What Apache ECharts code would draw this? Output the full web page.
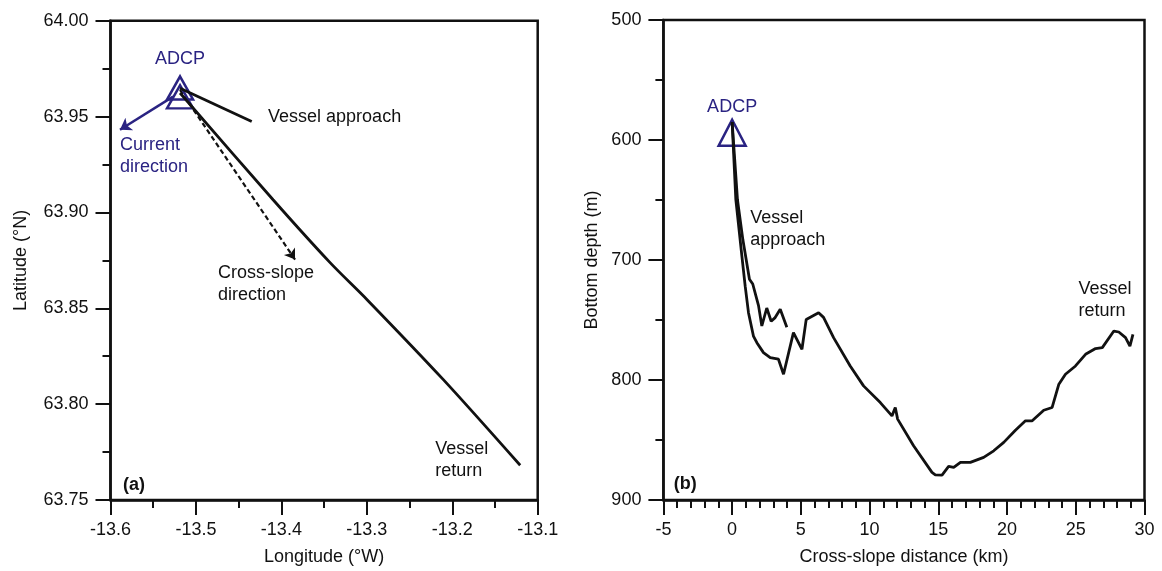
<!DOCTYPE html>
<html>
<head>
<meta charset="utf-8">
<script src="https://cdn.jsdelivr.net/npm/echarts@6/dist/echarts.min.js"></script>
<style>
  html, body { margin: 0; background: #fff; }
  #main { width: 1162px; height: 571px; }
</style>
</head>
<body>
<div id="main"></div>
<script>
// ---- panel (a): ship track ----
const approachLon = [-13.5186, -13.4347];
const approachLat = [63.9648, 63.9474];
const returnLon = [-13.5186, -13.4097, -13.3430, -13.2997, -13.2107, -13.1205];
const returnLat = [63.9623, 63.9066, 63.8738, 63.8545, 63.8129, 63.7681];
const adcpLon = [-13.5186, -13.5186];
const adcpLat = [63.9649, 63.9603];
const currentArrow = [[-13.5268, 63.9604], [-13.5889, 63.9431]];
const crossArrow = [[-13.5186, 63.9639], [-13.3840, 63.8754]];
const labelsA = [
  { name: "ADCP", lon: -13.5186, lat: 63.980, blue: true, align: "center" },
  { name: "Vessel approach", lon: -13.4156, lat: 63.9498, align: "left" },
  { name: "Current\ndirection", lon: -13.5889, lat: 63.9295, blue: true, align: "left" },
  { name: "Cross-slope\ndirection", lon: -13.4741, lat: 63.8629, align: "left" },
  { name: "Vessel\nreturn", lon: -13.2200, lat: 63.7709, align: "left" },
  { name: "(a)", lon: -13.5854, lat: 63.7578, bold: true, align: "left" }
];

// ---- panel (b): bottom depth ----
const approachKm = [0, 0.39, 0.78, 1.26, 1.50, 1.92, 2.16, 2.28, 2.52, 2.84, 3.13, 3.50, 3.98];
const approachDepth = [585, 650, 683, 716, 720, 738, 755, 755.5, 740, 751, 748, 741, 756];
const returnKm = [0, 0.27, 0.71, 0.95, 1.19, 1.55, 1.80, 2.28, 2.77, 3.37, 3.74, 4.46, 5.08, 5.39,
  6.29, 6.65, 7.38, 8.59, 9.56, 10.78, 11.63, 11.87, 12.04, 13.20, 14.54, 14.78, 15.27, 15.75,
  16.12, 16.61, 17.33, 18.30, 19.03, 19.76, 20.61, 21.34, 21.83, 22.67, 23.28, 23.77, 24.25,
  24.98, 25.71, 26.44, 26.93, 27.77, 28.13, 28.62, 28.94, 29.16];
const returnDepth = [585, 649.7, 696.8, 721.8, 743.9, 763.4, 768.9, 777.2, 781.3, 782.7, 795.2,
  760.5, 774.4, 749.5, 743.9, 747.8, 764.7, 788.3, 804.9, 818.8, 829.9, 822.9, 832.6, 854.8,
  877.0, 879.0, 879.2, 872.0, 872.8, 868.6, 868.6, 864.5, 859.0, 852.0, 841.8, 834.0, 834.0,
  825.2, 822.9, 803.5, 795.2, 788.3, 778.6, 773.8, 773.0, 759.2, 760.0, 764.7, 771.7, 762.0];
const adcpKm = [0];
const adcpDepth = [594];
const labelsB = [
  { name: "ADCP", km: 0, depth: 572.3, blue: true, align: "center" },
  { name: "Vessel\napproach", km: 1.31, depth: 673.8, align: "left" },
  { name: "Vessel\nreturn", km: 25.2, depth: 733.7, align: "left" },
  { name: "(b)", km: -4.25, depth: 886.4, bold: true, align: "left" }
];

const BLACK = "#111";
const BLUE = "#2a2382";
const FONT = "Liberation Sans";

const zip = (xs, ys) => xs.map((x, i) => [x, ys[i]]);

function axisCommon() {
  return {
    axisLine: { onZero: false, lineStyle: { color: BLACK, width: 2.5 } },
    axisTick: { inside: false, length: 15, lineStyle: { color: BLACK, width: 2 } },
    splitLine: { show: false },
    nameLocation: "middle",
    nameTextStyle: { color: BLACK, fontSize: 18, fontFamily: FONT }
  };
}

function textSeries(items, xKey, yKey, xi) {
  return {
    type: "scatter",
    xAxisIndex: xi,
    yAxisIndex: xi,
    symbolSize: 0,
    silent: true,
    itemStyle: { opacity: 1 },
    data: items.map(d => ({
      value: [d[xKey], d[yKey]],
      label: {
        show: true,
        position: "inside",
        formatter: d.name,
        align: d.align,
        verticalAlign: "middle",
        color: d.blue ? BLUE : BLACK,
        fontSize: 18,
        lineHeight: 22,
        fontWeight: d.bold ? "bold" : "normal",
        fontFamily: FONT
      }
    }))
  };
}

const chart = echarts.init(document.getElementById("main"));
chart.setOption({
  backgroundColor: "#fff",
  animation: false,
  grid: [
    { left: 110.5, top: 20.7, right: 624.3, bottom: 70.3, show: true, borderColor: BLACK, borderWidth: 2.5 },
    { left: 663.4, top: 20, right: 17.5, bottom: 70, show: true, borderColor: BLACK, borderWidth: 2.5 }
  ],
  xAxis: [
    Object.assign(axisCommon(), {
      gridIndex: 0, type: "value", min: -13.6, max: -13.1, interval: 0.1,
      minorTick: { show: true, splitNumber: 2, length: 8, lineStyle: { color: BLACK, width: 2 } },
      name: "Longitude (°W)", nameGap: 48,
      axisLabel: { color: BLACK, fontSize: 18, fontFamily: FONT, margin: 21, formatter: v => v.toFixed(1) }
    }),
    Object.assign(axisCommon(), {
      gridIndex: 1, type: "value", min: -5, max: 30, interval: 5,
      minorTick: { show: true, splitNumber: 5, length: 8, lineStyle: { color: BLACK, width: 2 } },
      name: "Cross-slope distance (km)", nameGap: 48,
      axisLabel: { color: BLACK, fontSize: 18, fontFamily: FONT, margin: 21 }
    })
  ],
  yAxis: [
    Object.assign(axisCommon(), {
      gridIndex: 0, type: "value", min: 63.75, max: 64.0, interval: 0.05,
      minorTick: { show: true, splitNumber: 2, length: 8, lineStyle: { color: BLACK, width: 2 } },
      name: "Latitude (°N)", nameGap: 80,
      axisLabel: { color: BLACK, fontSize: 18, fontFamily: FONT, margin: 22, formatter: v => v.toFixed(2) }
    }),
    Object.assign(axisCommon(), {
      gridIndex: 1, type: "value", min: 500, max: 900, interval: 100, inverse: true,
      minorTick: { show: true, splitNumber: 2, length: 8, lineStyle: { color: BLACK, width: 2 } },
      name: "Bottom depth (m)", nameGap: 62,
      axisLabel: { color: BLACK, fontSize: 18, fontFamily: FONT, margin: 22 }
    })
  ],
  series: [
    // panel (a)
    {
      type: "line", xAxisIndex: 0, yAxisIndex: 0, showSymbol: false, silent: true,
      data: zip(approachLon, approachLat), lineStyle: { color: BLACK, width: 2.8 }
    },
    {
      type: "line", xAxisIndex: 0, yAxisIndex: 0, showSymbol: false, silent: true, smooth: 0.3,
      data: zip(returnLon, returnLat), lineStyle: { color: BLACK, width: 2.8 }
    },
    {
      type: "lines", coordinateSystem: "cartesian2d", xAxisIndex: 0, yAxisIndex: 0, silent: true,
      symbol: ["none", "arrow"], symbolSize: 10,
      data: [{ coords: crossArrow }],
      lineStyle: { color: BLACK, width: 2.2, type: [5, 3], opacity: 1 }
    },
    {
      type: "lines", coordinateSystem: "cartesian2d", xAxisIndex: 0, yAxisIndex: 0, silent: true,
      symbol: ["none", "arrow"], symbolSize: 11,
      data: [{ coords: currentArrow }],
      lineStyle: { color: BLUE, width: 2.5, opacity: 1 }
    },
    {
      type: "scatter", xAxisIndex: 0, yAxisIndex: 0, silent: true,
      symbol: "triangle", symbolSize: [26, 23],
      data: zip(adcpLon, adcpLat),
      itemStyle: { color: "rgba(0,0,0,0)", borderColor: BLUE, borderWidth: 2.5, opacity: 1 }
    },
    textSeries(labelsA, "lon", "lat", 0),
    // panel (b)
    {
      type: "line", xAxisIndex: 1, yAxisIndex: 1, showSymbol: false, silent: true,
      data: zip(approachKm, approachDepth), lineStyle: { color: BLACK, width: 2.8 }
    },
    {
      type: "line", xAxisIndex: 1, yAxisIndex: 1, showSymbol: false, silent: true,
      data: zip(returnKm, returnDepth), lineStyle: { color: BLACK, width: 2.8 }
    },
    {
      type: "scatter", xAxisIndex: 1, yAxisIndex: 1, silent: true,
      symbol: "triangle", symbolSize: [27, 26],
      data: zip(adcpKm, adcpDepth),
      itemStyle: { color: "rgba(0,0,0,0)", borderColor: BLUE, borderWidth: 2.5, opacity: 1 }
    },
    textSeries(labelsB, "km", "depth", 1)
  ]
});
</script>
</body>
</html>
